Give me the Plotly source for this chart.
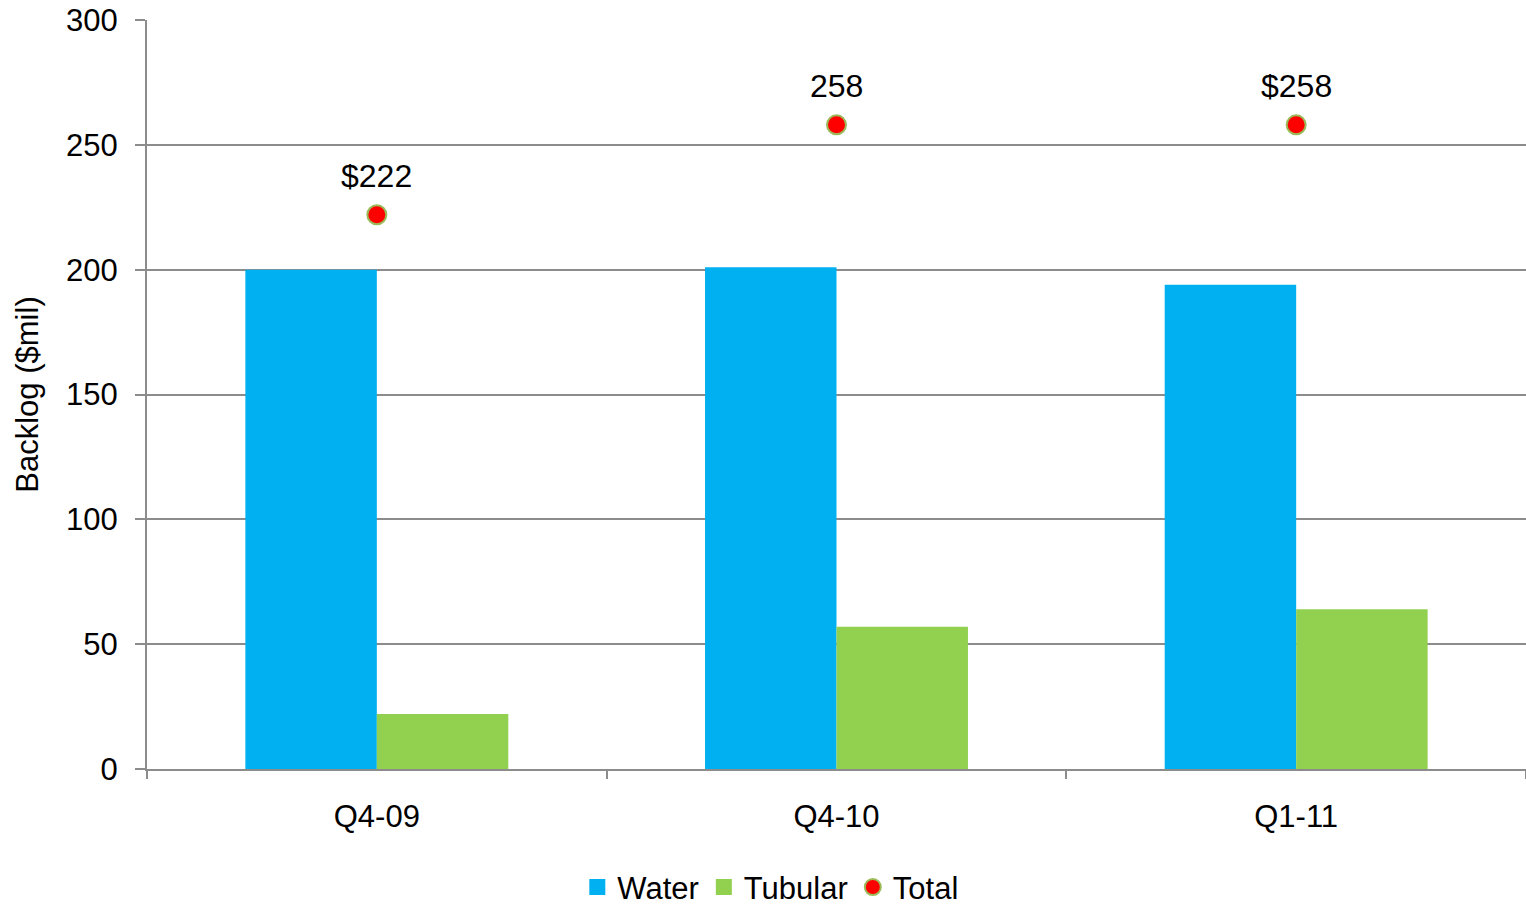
import plotly.graph_objects as go

quarters = ["Q4-09", "Q4-10", "Q1-11"]
water = [200, 201, 194]
tubular = [22, 57, 64]
total = [222, 258, 258]
total_labels = ["$222", "258", "$258"]

FONT = "Liberation Sans, Arial, sans-serif"
GRID = "#8c8c8c"
WATER_C = "#00B0F0"
TUBULAR_C = "#92D050"

fig = go.Figure()
fig.add_trace(go.Bar(name="Water", x=quarters, y=water, showlegend=False,
                     marker=dict(color=WATER_C, line=dict(width=0))))
fig.add_trace(go.Bar(name="Tubular", x=quarters, y=tubular, showlegend=False,
                     marker=dict(color=TUBULAR_C, line=dict(width=0))))

# legend entries with larger square swatches for the bar series
for name, col in [("Water", WATER_C), ("Tubular", TUBULAR_C)]:
    fig.add_trace(go.Scatter(name=name, x=[None], y=[None], mode="markers",
                             marker=dict(symbol="square", color=col, size=16)))

fig.add_trace(go.Scatter(
    name="Total", x=quarters, y=total, mode="markers",
    marker=dict(color="#FF0000", size=19, line=dict(color="#9BBB59", width=2)),
))

for q, v, lab in zip(quarters, total, total_labels):
    fig.add_annotation(x=q, y=v, text=lab, showarrow=False, yshift=39,
                       font=dict(family=FONT, size=32, color="#000000"))

fig.update_layout(
    width=1526, height=904,
    margin=dict(l=147, r=0, t=20, b=135, autoexpand=False),
    paper_bgcolor="white", plot_bgcolor="white",
    barmode="group", bargap=0.428, bargroupgap=0,
    font=dict(family=FONT, size=31, color="#000000"),
    showlegend=True,
    legend=dict(orientation="h", x=0.452, xanchor="center", y=-0.122, yanchor="top",
                font=dict(family=FONT, size=31), itemwidth=30, tracegroupgap=0),
)
fig.update_xaxes(
    showline=True, linecolor=GRID, linewidth=2,
    ticks="outside", tickson="boundaries", ticklen=8, tickcolor=GRID, tickwidth=2,
    tickfont=dict(size=31), ticklabelstandoff=19, showgrid=False,
)
fig.update_yaxes(
    range=[0, 300], dtick=50, showgrid=True, gridcolor=GRID, gridwidth=2,
    showline=True, linecolor=GRID, linewidth=2,
    ticks="outside", ticklen=10, tickcolor=GRID, tickwidth=2,
    tickfont=dict(size=31), ticklabelstandoff=11, zeroline=False,
    title=dict(text="Backlog ($mil)", font=dict(size=31), standoff=18),
)

fig.write_html("out.html")
